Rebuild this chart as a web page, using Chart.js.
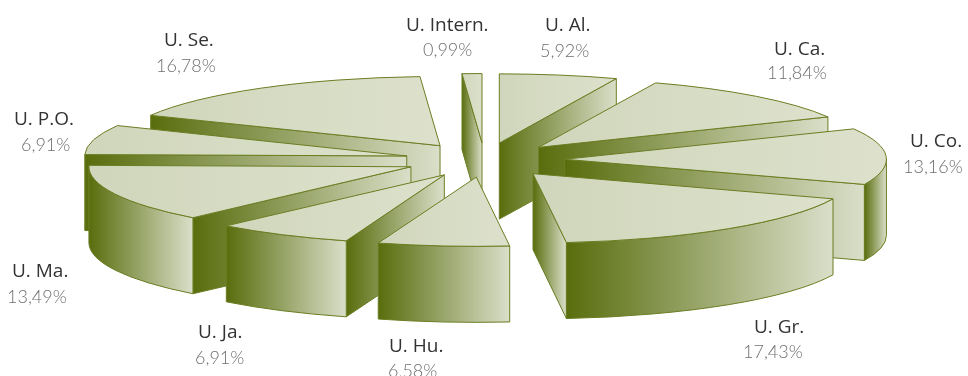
<!DOCTYPE html>
<html lang="es">
<head>
    <meta charset="UTF-8">
    <title>Reparto por universidades</title>
    <script src="https://cdn.jsdelivr.net/npm/chart.js"></script>
    <style>
        html, body { margin: 0; padding: 0; background: #fff; }
        canvas { display: block; }
    </style>
</head>
<body>
    <canvas id="pie3d" width="968" height="376"></canvas>
    <script>
        // datos, en sentido horario desde las 12
        const universities = ['U. Al.', 'U. Ca.', 'U. Co.', 'U. Gr.', 'U. Hu.', 'U. Ja.', 'U. Ma.', 'U. P.O.', 'U. Se.', 'U. Intern.'];
        const shares = [5.92, 11.84, 13.16, 17.43, 6.58, 6.91, 13.49, 6.91, 16.78, 0.99];

        // posicion de los textos: [x nombre, base nombre, x valor, base valor]
        const labelSpots = [
            [545, 31, 540, 57], [774, 55, 767, 79], [910, 147, 903, 173], [754, 333, 743, 358], [389, 352, 388, 377],
            [198, 338, 195, 364], [12, 277, 7, 303], [14, 125, 21, 151], [164, 46, 156, 72], [406, 31, 423, 56]
        ];

        const CX = 484.5, CY = 160, RADIUS = 322, SQUASH = 0.215, EXPLODE = 80, DEPTH = 76;
        const LINE = '#6b7d22';

        function sideGradient(ctx, x0, x1) {
            let g = ctx.createLinearGradient(x0, 0, x1, 0);
            g.addColorStop(0, '#596d0d');
            g.addColorStop(1, '#dadfc9');
            return g;
        }

        function paintSide(ctx, x0, x1) {
            ctx.fillStyle = sideGradient(ctx, x0, x1);
            ctx.fill();
            ctx.lineWidth = 1;
            ctx.strokeStyle = LINE;
            ctx.stroke();
        }

        // pared plana del corte, del vertice al borde
        function drawCut(ctx, ax, ay, angle) {
            let rx = ax + Math.cos(angle) * RADIUS;
            let ry = ay + Math.sin(angle) * RADIUS * SQUASH;
            ctx.beginPath();
            ctx.moveTo(ax, ay);
            ctx.lineTo(rx, ry);
            ctx.lineTo(rx, ry + DEPTH);
            ctx.lineTo(ax, ay + DEPTH);
            ctx.closePath();
            paintSide(ctx, Math.min(ax, rx), Math.max(ax, rx));
        }

        // pared curva, solo la parte que mira al frente
        function drawRim(ctx, ax, ay, start, end) {
            let from = Math.max(start, 0);
            let to = Math.min(end, Math.PI);
            if (to <= from) return;
            ctx.beginPath();
            ctx.ellipse(ax, ay, RADIUS, RADIUS * SQUASH, 0, from, to);
            ctx.ellipse(ax, ay + DEPTH, RADIUS, RADIUS * SQUASH, 0, to, from, true);
            ctx.closePath();
            paintSide(ctx, ax + Math.cos(to) * RADIUS, ax + Math.cos(from) * RADIUS);
        }

        function xRange(start, end) {
            let xs = [0];
            for (let i = 0; i <= 24; i++) {
                xs.push(Math.cos(start + (end - start) * i / 24) * RADIUS);
            }
            return [Math.min(...xs), Math.max(...xs)];
        }

        const pie3d = {
            id: 'pie3d',
            beforeDatasetDraw(chart, args) {
                const ctx = chart.ctx;
                const arcs = [...args.meta.data].sort((a, b) =>
                    Math.sin((a.startAngle + a.endAngle) / 2) - Math.sin((b.startAngle + b.endAngle) / 2));

                arcs.forEach(arc => {
                    let start = arc.startAngle, end = arc.endAngle, mid = (start + end) / 2;
                    let ax = CX + Math.cos(mid) * EXPLODE;
                    let ay = CY + Math.sin(mid) * EXPLODE * SQUASH;

                    if (Math.cos(start) < -0.001) drawCut(ctx, ax, ay, start);
                    if (Math.cos(end) > 0.001) drawCut(ctx, ax, ay, end);
                    drawRim(ctx, ax, ay, start, end);

                    // la cara superior la pinta el propio arco de Chart.js, aplastado
                    let range = xRange(start, end);
                    let top = ctx.createLinearGradient(arc.x + range[0], 0, arc.x + range[1], 0);
                    top.addColorStop(0, '#d0d6bb');
                    top.addColorStop(1, '#dde1cc');
                    arc.options = Object.assign({}, arc.options, { backgroundColor: top, borderWidth: 0 });
                    ctx.save();
                    ctx.translate(ax, ay);
                    ctx.scale(1, SQUASH);
                    ctx.translate(-arc.x, -arc.y);
                    arc.draw(ctx);
                    ctx.restore();

                    ctx.beginPath();
                    ctx.moveTo(ax, ay);
                    ctx.ellipse(ax, ay, RADIUS, RADIUS * SQUASH, 0, start, end);
                    ctx.closePath();
                    ctx.lineWidth = 1;
                    ctx.strokeStyle = LINE;
                    ctx.stroke();
                });
                return false;
            },
            afterDraw(chart) {
                const ctx = chart.ctx;
                ctx.textAlign = 'left';
                ctx.textBaseline = 'alphabetic';
                universities.forEach((name, i) => {
                    let spot = labelSpots[i];
                    ctx.font = '19px "Open Sans"';
                    ctx.fillStyle = '#333333';
                    ctx.fillText(name, spot[0], spot[1]);
                    ctx.font = '300 18px Lato';
                    ctx.fillStyle = '#6f6f6f';
                    ctx.fillText(shares[i].toFixed(2).replace('.', ',') + '%', spot[2], spot[3]);
                });
            }
        };

        new Chart(document.getElementById('pie3d').getContext('2d'), {
            type: 'pie',
            data: {
                labels: universities,
                datasets: [{ data: shares, backgroundColor: '#d6dbc3', borderWidth: 0 }]
            },
            options: {
                responsive: false,
                animation: false,
                radius: RADIUS,
                events: [],
                plugins: { legend: { display: false }, tooltip: { enabled: false } }
            },
            plugins: [pie3d]
        });
    </script>
</body>
</html>
